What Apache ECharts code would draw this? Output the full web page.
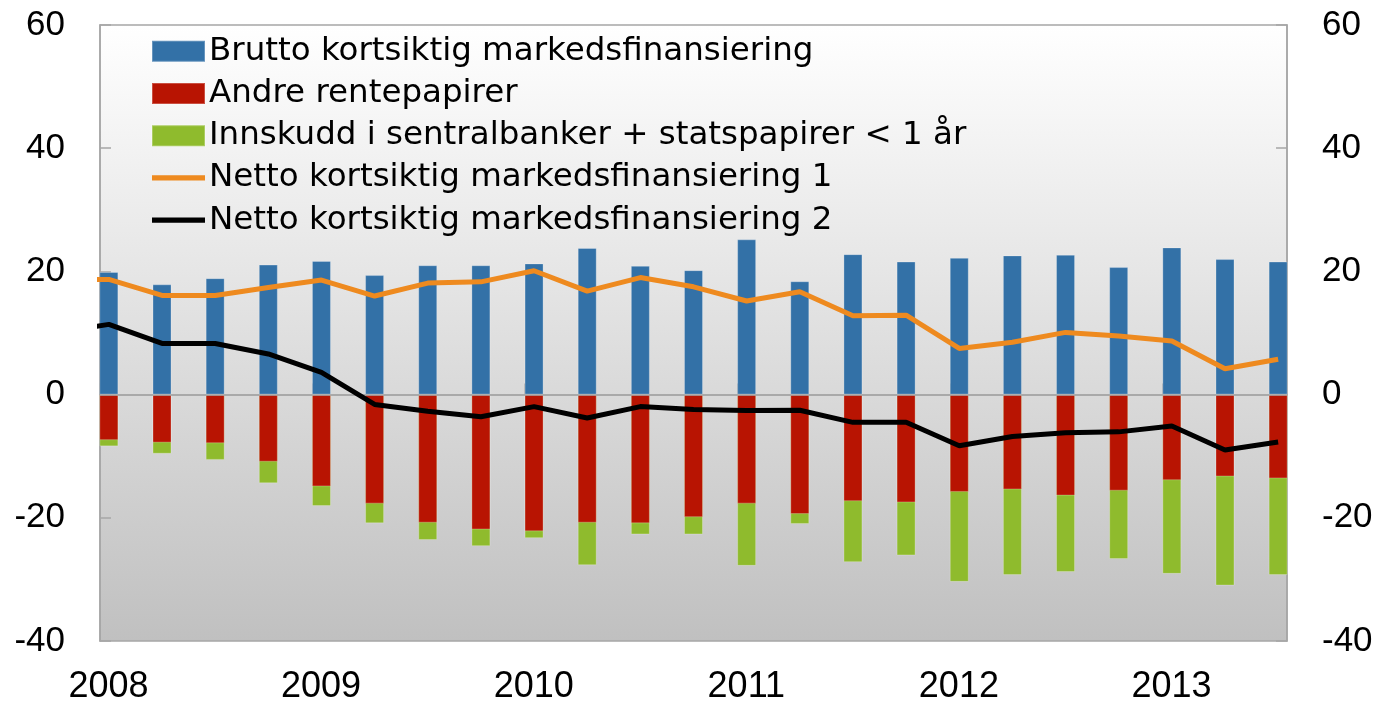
<!DOCTYPE html>
<html>
<head>
<meta charset="utf-8">
<script src="https://cdn.jsdelivr.net/npm/echarts@6/dist/echarts.min.js"></script>
<style>
html,body{margin:0;padding:0;background:#fff;}
#chart{width:1377px;height:707px;}
</style>
</head>
<body>
<div id="chart"></div>
<script>
// Quarters (bars), 2008 Q1 – 2013 Q3
const quarters = ['2008 Q1','2008 Q2','2008 Q3','2008 Q4','2009 Q1','2009 Q2','2009 Q3','2009 Q4',
  '2010 Q1','2010 Q2','2010 Q3','2010 Q4','2011 Q1','2011 Q2','2011 Q3','2011 Q4',
  '2012 Q1','2012 Q2','2012 Q3','2012 Q4','2013 Q1','2013 Q2','2013 Q3'];
// Line quarters start one quarter earlier (clipped at the left edge)
const lineQuarters = ['2007 Q4'].concat(quarters);

const brutto = [19.9, 17.9, 18.9, 21.1, 21.7, 19.4, 21.0, 21.0, 21.3, 23.8, 20.9, 20.2,
  25.2, 18.4, 22.8, 21.6, 22.2, 22.6, 22.7, 20.7, 23.9, 22.0, 21.6];
const andre = [-7.4, -7.8, -7.9, -10.9, -14.9, -17.7, -20.8, -21.9, -22.2, -20.8, -20.9, -19.9,
  -17.7, -19.4, -17.3, -17.5, -15.8, -15.4, -16.4, -15.6, -13.9, -13.3, -13.6];
const innskudd = [-1.0, -1.8, -2.7, -3.5, -3.2, -3.2, -2.8, -2.7, -1.1, -6.9, -1.8, -2.8,
  -10.1, -1.6, -9.9, -8.6, -14.6, -13.9, -12.4, -11.1, -15.2, -17.7, -15.7];
const netto1 = [18.7, 18.7, 16.1, 16.1, 17.4, 18.6, 16.0, 18.1, 18.3, 20.1, 16.8, 19.0, 17.5,
  15.2, 16.7, 12.8, 12.9, 7.5, 8.5, 10.1, 9.5, 8.7, 4.2, 5.75];
const netto2 = [10.0, 11.4, 8.3, 8.3, 6.6, 3.6, -1.6, -2.7, -3.6, -1.95, -3.8, -1.95, -2.4,
  -2.6, -2.55, -4.5, -4.5, -8.3, -6.8, -6.2, -6.05, -5.1, -9.0, -7.7];

const yTicks = [-40, -20, 0, 20, 40, 60];
const yearLabels = ['2008','2009','2010','2011','2012','2013'];

const names = ['Brutto kortsiktig markedsfinansiering', 'Andre rentepapirer',
  'Innskudd i sentralbanker + statspapirer < 1 år',
  'Netto kortsiktig markedsfinansiering 1', 'Netto kortsiktig markedsfinansiering 2'];

// "YYYY Qn" -> position in years (middle of the quarter's first month)
function qx(q) {
  const y = parseInt(q.slice(0, 4), 10);
  const n = parseInt(q.slice(6), 10);
  return y + (n - 1) / 4 + 1 / 24;
}
const pair = (qs, vals) => vals.map((v, i) => [qx(qs[i]), v]);
// Green segment sits below the red one: draw it from 0 to (andre + innskudd), red drawn on top
const greenStackEnd = innskudd.map((v, i) => andre[i] + v);

const FONT = 'Liberation Sans';
const LEGEND_FONT = 'DejaVu Sans';
const axisGrey = '#a6a6a6';

const chart = echarts.init(document.getElementById('chart'), null, {renderer: 'canvas'});
chart.setOption({
  animation: false,
  textStyle: {fontFamily: FONT},
  grid: {
    left: 100, right: 90, top: 25, bottom: 66,
    show: true,
    borderColor: axisGrey, borderWidth: 1.5,
    backgroundColor: new echarts.graphic.LinearGradient(0, 0, 0, 1, [
      {offset: 0, color: '#ffffff'},
      {offset: 1, color: '#c0c0c0'}
    ])
  },
  legend: {
    orient: 'vertical',
    left: 151, top: 34.8,
    padding: 0,
    itemWidth: 53, itemHeight: 21, itemGap: 9.2,
    textStyle: {fontFamily: LEGEND_FONT, fontSize: 32.5, color: '#000', lineHeight: 32.5, padding: [0,0,0,-1]},
    data: [
      {name: names[0], icon: 'rect'},
      {name: names[1], icon: 'rect'},
      {name: names[2], icon: 'rect'},
      {name: names[3], icon: 'path://M0,0H100V10H0Z'},
      {name: names[4], icon: 'path://M0,0H100V10H0Z'}
    ]
  },
  xAxis: {
    type: 'value',
    min: 2008, max: 2013 + 7 / 12, interval: 1,
    axisLine: {show: true, lineStyle: {color: axisGrey, width: 1.5}},
    axisTick: {show: true, inside: true, length: 11, lineStyle: {color: axisGrey, width: 1.5}},
    splitLine: {show: false},
    axisLabel: {
      fontFamily: FONT, fontSize: 36, color: '#000', margin: 28,
      padding: [0, 0, 0, 17],
      showMaxLabel: false,
      formatter: v => {
        const s = String(Math.round(v));
        return Math.abs(v - Math.round(v)) < 1e-6 && yearLabels.indexOf(s) >= 0 ? s : '';
      }
    }
  },
  yAxis: [
    {
      type: 'value', min: -40, max: 60, interval: 20, position: 'left',
      axisLine: {show: true, lineStyle: {color: axisGrey, width: 1.5}},
      axisTick: {show: true, inside: true, length: 11, lineStyle: {color: axisGrey, width: 1.5}},
      splitLine: {show: false},
      axisLabel: {fontFamily: FONT, fontSize: 35, color: '#000', margin: 35,
        formatter: v => yTicks.indexOf(v) >= 0 ? String(v) : ''}
    },
    {
      type: 'value', min: -40, max: 60, interval: 20, position: 'right',
      axisLine: {show: true, lineStyle: {color: axisGrey, width: 1.5}},
      axisTick: {show: true, inside: true, length: 11, lineStyle: {color: axisGrey, width: 1.5}},
      splitLine: {show: false},
      axisLabel: {fontFamily: FONT, fontSize: 35, color: '#000', margin: 35,
        formatter: v => yTicks.indexOf(v) >= 0 ? String(v) : ''}
    }
  ],
  series: [
    {
      name: names[0], type: 'bar', barWidth: 19, barGap: '-100%',
      itemStyle: {color: '#3371a7', borderColor: 'rgba(255,255,255,0.25)', borderWidth: 1},
      data: pair(quarters, brutto),
      markLine: {
        silent: true, symbol: 'none', label: {show: false}, z: 4,
        lineStyle: {color: axisGrey, width: 1.5, type: 'solid'},
        data: [{yAxis: 0}]
      }
    },
    {
      name: names[2], type: 'bar', barWidth: 19, barGap: '-100%',
      itemStyle: {color: '#8fbb2d', borderColor: 'rgba(255,255,255,0.25)', borderWidth: 1},
      data: pair(quarters, greenStackEnd)
    },
    {
      name: names[1], type: 'bar', barWidth: 19, barGap: '-100%',
      itemStyle: {color: '#b81402', borderColor: 'rgba(255,255,255,0.25)', borderWidth: 1},
      data: pair(quarters, andre)
    },
    {
      name: names[3], type: 'line', symbol: 'none', z: 5, clip: true,
      itemStyle: {color: '#ee8a1f'},
      lineStyle: {color: '#ee8a1f', width: 5},
      data: pair(lineQuarters, netto1)
    },
    {
      name: names[4], type: 'line', symbol: 'none', z: 5, clip: true,
      itemStyle: {color: '#000000'},
      lineStyle: {color: '#000000', width: 5},
      data: pair(lineQuarters, netto2)
    }
  ]
});
</script>
</body>
</html>
